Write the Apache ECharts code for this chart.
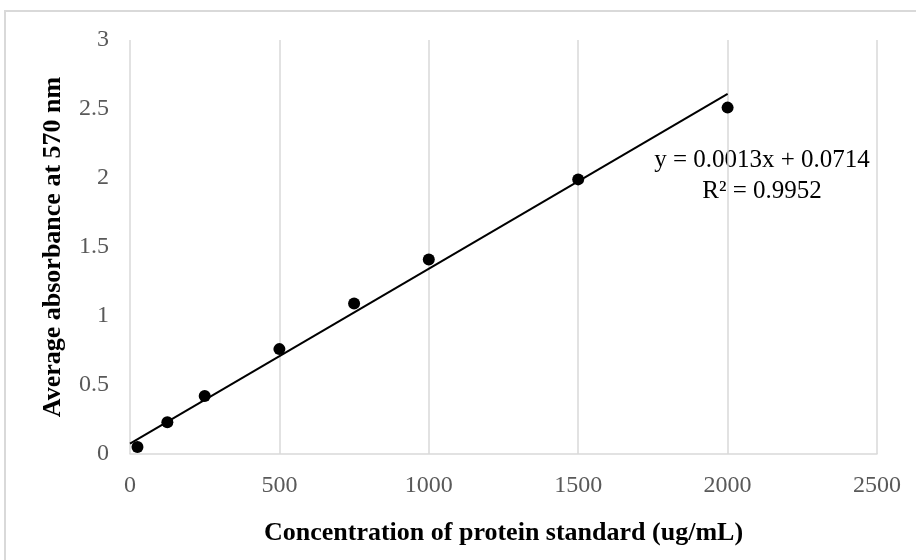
<!DOCTYPE html>
<html>
<head>
<meta charset="utf-8">
<script src="https://cdn.jsdelivr.net/npm/echarts@6/dist/echarts.min.js"></script>
<style>
html,body{margin:0;padding:0;background:#fff;}
#chart{width:916px;height:560px;}
</style>
</head>
<body>
<div id="chart"></div>
<script>
// Data
var concentrations = [25, 125, 250, 500, 750, 1000, 1500, 2000];
var absorbances = [0.05, 0.23, 0.42, 0.76, 1.09, 1.41, 1.99, 2.51];
var trendX = [0, 2000];
var trendY = [0.075, 2.61];
var equationText = 'y = 0.0013x + 0.0714';
var r2Text = 'R² = 0.9952';
var xTitle = 'Concentration of protein standard (ug/mL)';
var yTitle = 'Average absorbance at 570 nm';

var points = concentrations.map(function (x, i) { return [x, absorbances[i]]; });
var trend = trendX.map(function (x, i) { return [x, trendY[i]]; });

var serif = '"Liberation Serif", "Times New Roman", serif';
var chart = echarts.init(document.getElementById('chart'));
chart.setOption({
  animation: false,
  backgroundColor: '#fff',
  grid: { left: 130, right: 39, top: 40, bottom: 106 },
  xAxis: {
    type: 'value', min: 0, max: 2500, interval: 500,
    name: xTitle, nameLocation: 'middle', nameGap: 66,
    nameTextStyle: { fontFamily: serif, fontWeight: 'bold', fontSize: 26, color: '#000' },
    axisLine: { show: true, lineStyle: { color: '#d9d9d9', width: 1.5 } },
    axisTick: { show: false },
    axisLabel: { fontFamily: serif, fontSize: 24, color: '#595959', margin: 20,
      formatter: function (v) { return String(v); } },
    splitLine: { show: true, lineStyle: { color: '#d9d9d9', width: 1.5 } }
  },
  yAxis: {
    type: 'value', min: 0, max: 3, interval: 0.5,
    name: yTitle, nameLocation: 'middle', nameGap: 64,
    nameTextStyle: { fontFamily: serif, fontWeight: 'bold', fontSize: 26, color: '#000' },
    axisLine: { show: false },
    axisTick: { show: false },
    axisLabel: { fontFamily: serif, fontSize: 24, color: '#595959', margin: 21,
      formatter: function (v) { return String(v); } },
    splitLine: { show: false }
  },
  series: [
    {
      type: 'line', data: trend, symbol: 'none', silent: true,
      lineStyle: { color: '#000', width: 2 }, z: 2
    },
    {
      type: 'scatter', data: points, symbol: 'circle', symbolSize: 12,
      itemStyle: { color: '#000', opacity: 1 }, z: 3
    }
  ],
  graphic: [
    { type: 'rect', shape: { x: 5, y: 11, width: 1000, height: 1000 }, style: { fill: 'none', stroke: '#d9d9d9', lineWidth: 2 }, silent: true, z: -1 },
    { type: 'text', x: 762, y: 160, style: { text: equationText, font: '25px ' + serif, fill: '#000', textAlign: 'center', textVerticalAlign: 'middle' } },
    { type: 'text', x: 762, y: 191, style: { text: r2Text, font: '25px ' + serif, fill: '#000', textAlign: 'center', textVerticalAlign: 'middle' } }
  ]
});
</script>
</body>
</html>
